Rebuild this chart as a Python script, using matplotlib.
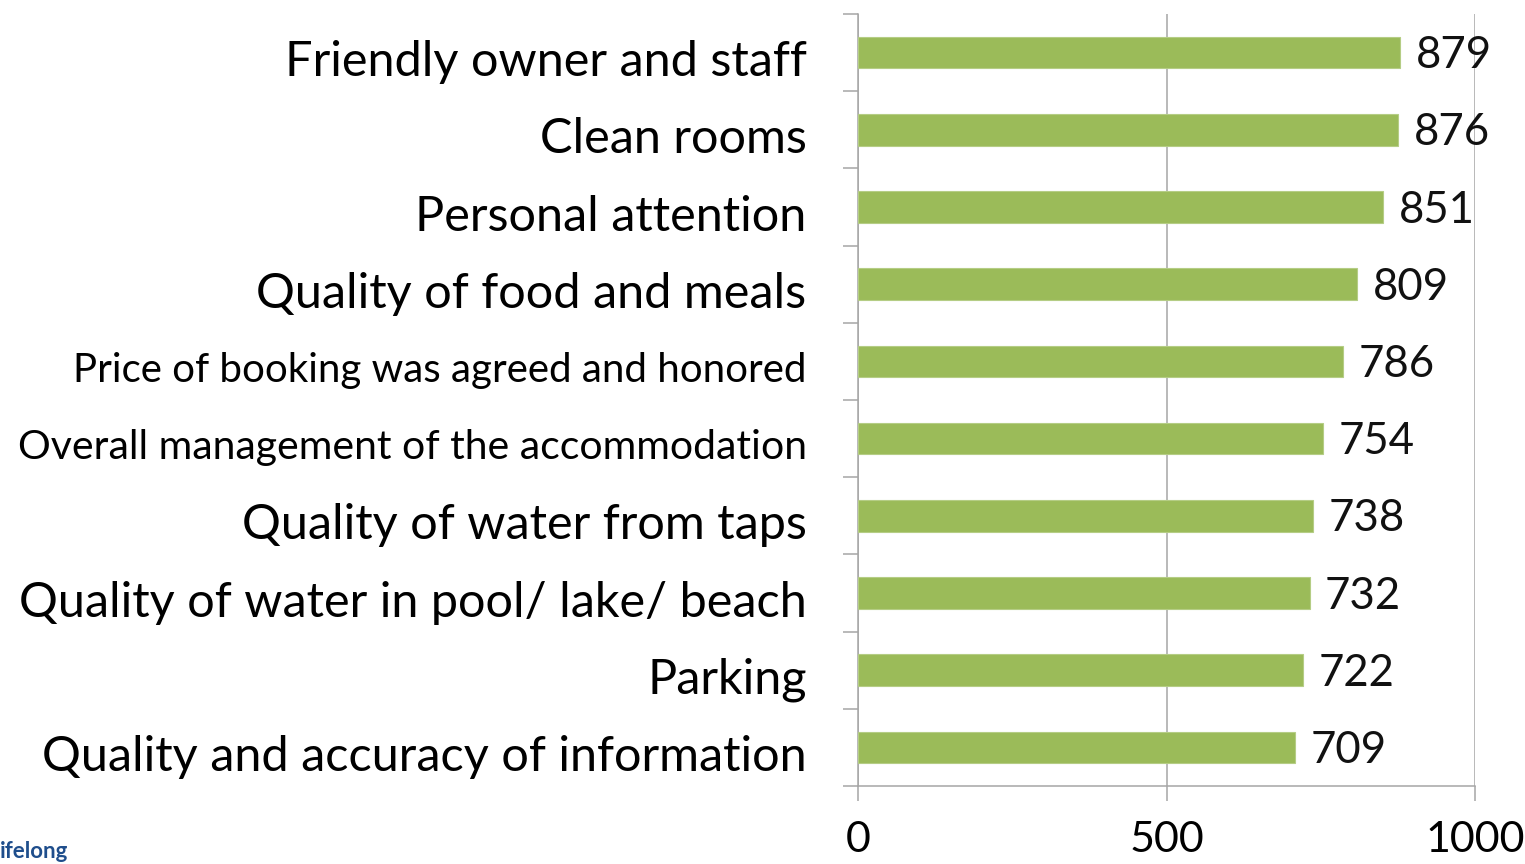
import matplotlib
matplotlib.use("Agg")
import matplotlib.pyplot as plt
from matplotlib.ticker import FixedLocator
from matplotlib.transforms import ScaledTranslation

plt.rcParams["font.family"] = ["Lato", "DejaVu Sans"]

categories = [
    "Friendly owner and staff",
    "Clean rooms",
    "Personal attention",
    "Quality of food and meals",
    "Price of booking was agreed and honored",
    "Overall management of the accommodation",
    "Quality of water from taps",
    "Quality of water in pool/ lake/ beach",
    "Parking",
    "Quality and accuracy of information",
]
values = [879, 876, 851, 809, 786, 754, 738, 732, 722, 709]
x_ticks = [0, 500, 1000]

BAR = "#9BBB59"
GRID = "#A6A6A6"

fig = plt.figure(figsize=(15.25, 8.64), dpi=100)
ax = fig.add_axes([858 / 1525, 1 - 786 / 864, 617 / 1525, 772 / 864])

ypos = list(range(len(categories)))
ax.barh(ypos, values, height=0.41, color=BAR, edgecolor="#B5CD85", linewidth=0.8, zorder=3)

for y, v in zip(ypos, values):
    ax.text(v + 25, y + 0.04, str(v), va="center", ha="left", fontsize=31.5, color="#111111", zorder=4)

ax.set_xlim(0, 1000)
ax.set_ylim(len(categories) - 0.5, -0.5)

ax.set_xticks(x_ticks)
ax.set_xticklabels([str(t) for t in x_ticks])
ax.set_yticks(ypos)
ax.set_yticklabels(categories)
ax.yaxis.set_minor_locator(FixedLocator([i - 0.5 for i in range(len(categories) + 1)]))

ax.tick_params(axis="y", which="major", length=0, pad=37, labelsize=35)
ax.tick_params(axis="y", which="minor", length=11, width=1.1, color=GRID, direction="out")
ax.tick_params(axis="x", which="major", length=11, width=1.1, color=GRID, direction="out",
               pad=14, labelsize=31)

ax.grid(True, axis="x", color=GRID, linewidth=1.1, zorder=0)
for side in ["top", "right"]:
    ax.spines[side].set_visible(False)
for side in ["left", "bottom"]:
    ax.spines[side].set_color(GRID)
    ax.spines[side].set_linewidth(1.1)

# nudge category labels down a little, and squeeze the two long ones
shift = ScaledTranslation(0, -4 / 72, fig.dpi_scale_trans)
for lbl in ax.get_yticklabels():
    lbl.set_transform(lbl.get_transform() + shift)
    if lbl.get_text().startswith("Price"):
        lbl.set_fontsize(29)
    elif lbl.get_text().startswith("Overall"):
        lbl.set_fontsize(29.5)

fig.text(0.0, 0.002, "ifelong", color="#1F4E8C", fontsize=16, fontweight="bold",
         ha="left", va="bottom")

fig.savefig("out.png", dpi=100)
